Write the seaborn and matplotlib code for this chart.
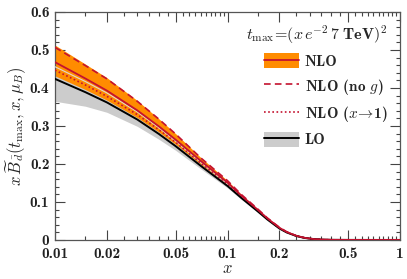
import numpy as np
import pandas as pd
import matplotlib
matplotlib.use("Agg")
import matplotlib.pyplot as plt
import matplotlib.ticker as mticker
from matplotlib.patches import Patch
from matplotlib.lines import Line2D
import seaborn as sns

# values
x = [0.01, 0.015, 0.02, 0.03, 0.04, 0.05, 0.07, 0.1, 0.12, 0.15, 0.17, 0.2,
     0.22, 0.25, 0.28, 0.32, 0.36, 0.4, 0.5, 0.7, 1.0]
nlo = [0.468, 0.425, 0.393, 0.341, 0.299, 0.264, 0.208, 0.151, 0.117, 0.079, 0.057, 0.032,
       0.021, 0.011, 0.0055, 0.002, 0.0008, 0.0003, 0.0001, 0.0, 0.0]
nlo_hi = [0.513, 0.463, 0.427, 0.367, 0.319, 0.280, 0.217, 0.156, 0.120, 0.081, 0.058, 0.033,
          0.0215, 0.0113, 0.0056, 0.002, 0.0008, 0.0003, 0.0001, 0.0, 0.0]
nlo_lo = [0.432, 0.396, 0.368, 0.322, 0.284, 0.252, 0.199, 0.146, 0.114, 0.077, 0.056, 0.031,
          0.0205, 0.0107, 0.0054, 0.002, 0.0008, 0.0003, 0.0001, 0.0, 0.0]
nlo_nog = [0.507, 0.459, 0.424, 0.365, 0.318, 0.279, 0.216, 0.156, 0.120, 0.081, 0.058, 0.033,
           0.0215, 0.0112, 0.0056, 0.002, 0.0008, 0.0003, 0.0001, 0.0, 0.0]
nlo_x1 = [0.447, 0.408, 0.378, 0.330, 0.290, 0.257, 0.202, 0.147, 0.115, 0.078, 0.056, 0.031,
          0.0205, 0.0108, 0.0054, 0.002, 0.0008, 0.0003, 0.0001, 0.0, 0.0]
lo = [0.424, 0.389, 0.362, 0.317, 0.279, 0.247, 0.195, 0.142, 0.111, 0.075, 0.054, 0.030,
      0.0198, 0.0104, 0.0052, 0.0019, 0.0007, 0.0003, 0.0001, 0.0, 0.0]
lo_hi = [0.456, 0.417, 0.387, 0.337, 0.295, 0.260, 0.204, 0.147, 0.115, 0.078, 0.056, 0.031,
         0.0205, 0.0108, 0.0054, 0.002, 0.0008, 0.0003, 0.0001, 0.0, 0.0]
lo_lo = [0.365, 0.352, 0.336, 0.299, 0.265, 0.236, 0.187, 0.137, 0.107, 0.072, 0.052, 0.029,
         0.019, 0.010, 0.005, 0.0018, 0.0007, 0.0003, 0.0001, 0.0, 0.0]

x_major = [0.01, 0.02, 0.05, 0.1, 0.2, 0.5, 1]
x_labels = ["0.01", "0.02", "0.05", "0.1", "0.2", "0.5", "1"]

orange = "#ff8c00"
red = "#c4122f"
grey = "#cccccc"

df = pd.DataFrame({"x": x, "nlo": nlo, "nog": nlo_nog, "x1": nlo_x1, "lo": lo, "lohi": lo_hi})

sns.set_style("ticks")
plt.rcParams["font.family"] = ["cmb10", "DejaVu Serif"]
plt.rcParams["mathtext.fontset"] = "cm"
plt.rcParams["axes.unicode_minus"] = False
plt.rcParams["axes.formatter.use_mathtext"] = False

fig = plt.figure(figsize=(4.07, 2.79), dpi=100)
ax = fig.add_axes([0.135, 0.14, 0.848, 0.817])

ax.fill_between(x, lo_lo, lo_hi, color=grey, lw=0, zorder=1)
ax.fill_between(x, nlo_lo, nlo_hi, color=orange, lw=0, zorder=2)
sns.lineplot(data=df, x="x", y="lohi", ax=ax, color="#e0d8d0", lw=0.8, zorder=3)
sns.lineplot(data=df, x="x", y="nog", ax=ax, color=red, lw=1.2,
             linestyle=(0, (4, 2.5)), zorder=4)
sns.lineplot(data=df, x="x", y="x1", ax=ax, color=red, lw=1.2, linestyle=(0, (1, 1.5)), zorder=4)
sns.lineplot(data=df, x="x", y="lo", ax=ax, color="black", lw=1.4, zorder=5)
sns.lineplot(data=df, x="x", y="nlo", ax=ax, color=red, lw=1.3, zorder=6)

ax.set_xscale("log")
ax.set_xlim(0.01, 1)
ax.set_ylim(0, 0.6)
ax.xaxis.set_major_locator(mticker.FixedLocator(x_major))
ax.xaxis.set_major_formatter(mticker.FixedFormatter(x_labels))
minor = [v / 1000 for v in range(15, 100, 5) if v not in (20, 50)]
minor += [v / 100 for v in range(15, 100, 5) if v not in (20, 50)]
ax.xaxis.set_minor_locator(mticker.FixedLocator(minor))
ax.xaxis.set_minor_formatter(mticker.NullFormatter())
ax.yaxis.set_major_locator(mticker.MultipleLocator(0.1))
ax.yaxis.set_minor_locator(mticker.MultipleLocator(0.02))
ax.yaxis.set_major_formatter(mticker.FuncFormatter(lambda v, p: "0" if v == 0 else f"{v:.1f}"))

ax.tick_params(which="both", direction="in", top=True, right=True, colors="#444444",
               labelcolor="#222222", labelsize=11, width=0.8)
ax.tick_params(which="major", length=7)
ax.tick_params(which="minor", length=3.2)
ax.tick_params(axis="x", pad=5)
ax.tick_params(axis="y", pad=4)
for s in ax.spines.values():
    s.set_color("#555555")
    s.set_linewidth(0.9)

ax.set_xlabel(r"$x$", fontsize=12, labelpad=0)
ax.set_ylabel(r"$x\,\widetilde{B}_{\bar{d}}(t_{\max},x,\mu_B)$", fontsize=12, labelpad=1)

handles = [
    (Patch(facecolor=orange, lw=0), Line2D([], [], color=red, lw=1.3)),
    Line2D([], [], color=red, lw=1.2, linestyle=(0, (4, 2.5))),
    Line2D([], [], color=red, lw=1.2, linestyle=(0, (1, 1.5))),
    (Patch(facecolor=grey, lw=0), Line2D([], [], color="black", lw=1.4)),
]
labels = ["NLO", r"NLO (no $g$)", r"NLO ($x\!\rightarrow\!$1)", "LO"]
leg = ax.legend(handles, labels, loc="upper right", bbox_to_anchor=(0.99, 0.99),
                frameon=False, fontsize=11, handlelength=2.3, handleheight=1.1,
                handletextpad=0.4, labelspacing=0.5, borderaxespad=0.2,
                title=r"$t_{\max}\!=\!(x\,e^{-2}\,\mathbf{7\;TeV})^2$",
                title_fontsize=11.5, alignment="right")

fig.savefig("out.png", dpi=100)
